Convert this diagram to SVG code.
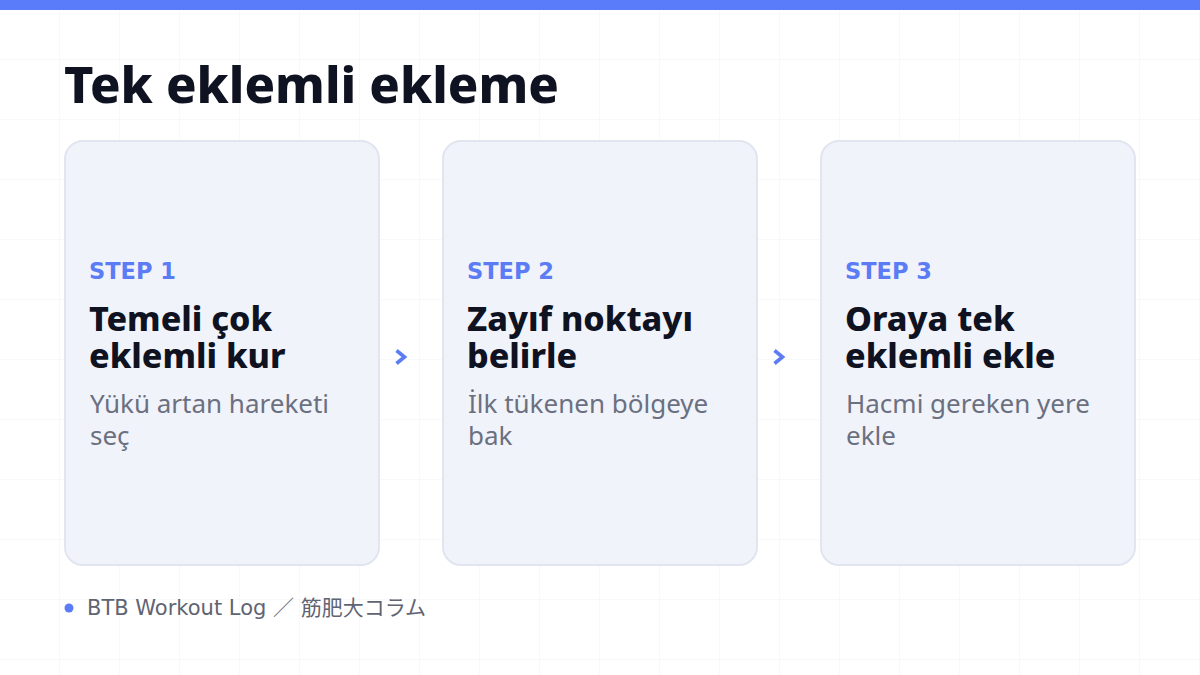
<svg xmlns="http://www.w3.org/2000/svg" width="1200" height="675" viewBox="0 0 1200 675">
  <defs>
    <pattern id="grid" width="60" height="60" patternUnits="userSpaceOnUse">
      <path d="M60 0V60M0 60H60" fill="none" stroke="#f1f2f5" stroke-width="1"/>
    </pattern>
  </defs>
  <style>
    .card { fill: #f1f3fb; stroke: #e1e5f0; stroke-width: 2; }
    .step { font-family: "DejaVu Sans", "Noto Sans", sans-serif; font-weight: 700; font-size: 22.5px; fill: #5b7cf5; }
    .head { font-family: "Noto Sans", "Liberation Sans", sans-serif; font-weight: 800; font-size: 34px; fill: #0f1221; }
    .desc { font-family: "Noto Sans", "Liberation Sans", sans-serif; font-weight: 400; font-size: 26px; fill: #6b7080; }
    .chev { fill: none; stroke: #5b7cf5; stroke-width: 3.6; stroke-linecap: butt; stroke-linejoin: miter; }
  </style>
  <rect width="1200" height="675" fill="#ffffff"/>
  <rect width="1200" height="675" fill="url(#grid)"/>
  <rect x="0" y="0" width="1200" height="10" fill="#5b7cfa"/>

  <text x="64" y="103" font-family="'Noto Sans', 'Liberation Sans', sans-serif" font-weight="800" font-size="50.5" fill="#0f1221">Tek eklemli ekleme</text>

  <g id="step1">
    <rect class="card" x="65" y="141" width="314" height="424" rx="18"/>
    <text class="step" x="89" y="279">STEP 1</text>
    <text class="head" x="89" y="331">Temeli çok</text>
    <text class="head" x="89" y="368">eklemli kur</text>
    <text class="desc" x="90" y="413">Yükü artan hareketi</text>
    <text class="desc" x="90" y="445">seç</text>
  </g>

  <g id="step2">
    <rect class="card" x="443" y="141" width="314" height="424" rx="18"/>
    <text class="step" x="467" y="279">STEP 2</text>
    <text class="head" x="467" y="331">Zayıf noktayı</text>
    <text class="head" x="467" y="368">belirle</text>
    <text class="desc" x="468" y="413">İlk tükenen bölgeye</text>
    <text class="desc" x="468" y="445">bak</text>
  </g>

  <g id="step3">
    <rect class="card" x="821" y="141" width="314" height="424" rx="18"/>
    <text class="step" x="845" y="279">STEP 3</text>
    <text class="head" x="845" y="331">Oraya tek</text>
    <text class="head" x="845" y="368">eklemli ekle</text>
    <text class="desc" x="846" y="413">Hacmi gereken yere</text>
    <text class="desc" x="846" y="445">ekle</text>
  </g>

  <g id="connectors">
    <polyline class="chev" points="396.5,350.5 404.5,357 396.5,363.5"/>
    <polyline class="chev" points="774.5,350.5 782.5,357 774.5,363.5"/>
  </g>

  <g id="footer">
    <circle cx="69" cy="608" r="4.5" fill="#5b7cf5"/>
    <text x="87" y="615" font-family="'DejaVu Sans', 'Noto Sans CJK JP', sans-serif" font-size="21" fill="#5f6472">BTB Workout Log ／ 筋肥大コラム</text>
  </g>
</svg>
